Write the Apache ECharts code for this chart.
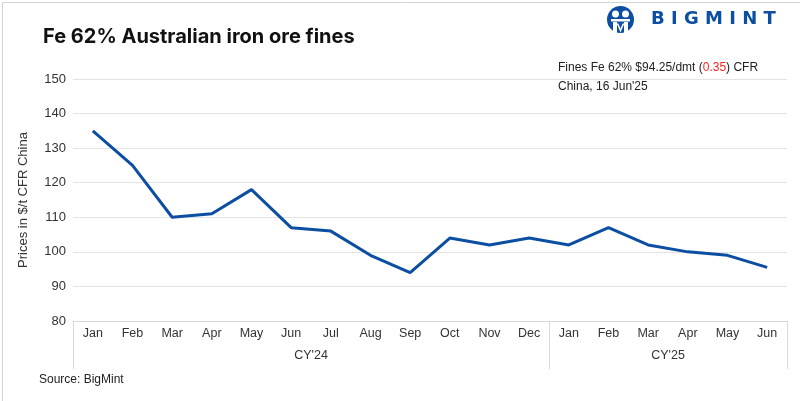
<!DOCTYPE html>
<html>
<head>
<meta charset="utf-8">
<script src="https://cdn.jsdelivr.net/npm/echarts@6/dist/echarts.min.js"></script>
<style>html,body{margin:0;padding:0;background:#fff}#c{width:800px;height:401px}</style>
</head>
<body>
<div id="c"></div>
<script>
const months = ['Jan','Feb','Mar','Apr','May','Jun','Jul','Aug','Sep','Oct','Nov','Dec','Jan','Feb','Mar','Apr','May','Jun'];
const prices = [135, 125, 110, 111, 118, 107, 106, 99, 94, 104, 102, 104, 102, 107, 102, 100, 99, 95.5];
const yearLabels = ["CY'24", "CY'25"];
const yearCenters = [6, 15];
const yearDividers = [0, 12, 18];
const yTicks = [80, 90, 100, 110, 120, 130, 140, 150];

const chart = echarts.init(document.getElementById('c'), null, {renderer: 'canvas'});
const LF = '"Liberation Sans", Arial, sans-serif';
const blue = '#0b4ea2';
chart.setOption({
  animation: false,
  backgroundColor: '#fff',
  grid: {left: 73, right: 13, top: 79, bottom: 80, containLabel: false},
  title: {
    text: 'Fe 62% Australian iron ore fines',
    left: 38, top: 22,
    textStyle: {fontFamily: 'Inter, sans-serif', fontWeight: 'bold', fontSize: 20, color: '#111'}
  },
  xAxis: [
    {
      type: 'category', data: months, boundaryGap: true,
      axisLine: {show: true, lineStyle: {color: '#d9d9d9', width: 1}},
      axisTick: {show: false},
      axisLabel: {color: '#333', fontSize: 12.5, fontFamily: LF, margin: 6, interval: 0}
    },
    {
      type: 'value', min: 0, max: 18, position: 'bottom', gridIndex: 0,
      axisLine: {show: false},
      axisTick: {show: true, customValues: yearDividers, length: 48, lineStyle: {color: '#d9d9d9', width: 1}},
      axisLabel: {
        customValues: yearCenters, margin: 28, color: '#333', fontSize: 12.5, fontFamily: LF,
        formatter: v => yearLabels[yearCenters.indexOf(v)] || ''
      },
      splitLine: {show: false}
    }
  ],
  yAxis: {
    type: 'value', min: yTicks[0], max: yTicks[yTicks.length - 1], interval: 10,
    name: 'Prices in $/t CFR China', nameLocation: 'middle', nameGap: 43, nameRotate: 90,
    nameTextStyle: {color: '#333', fontSize: 13, fontFamily: LF},
    axisLine: {show: false}, axisTick: {show: false},
    axisLabel: {color: '#333', fontSize: 13, fontFamily: LF, margin: 7},
    splitLine: {lineStyle: {color: '#e3e3e3', width: 1}, showMinLine: false}
  },
  series: [{
    type: 'line', data: prices, xAxisIndex: 0, symbol: 'none',
    lineStyle: {color: blue, width: 3}, itemStyle: {color: blue}
  }],
  graphic: [
    {type: 'rect', left: 0, top: 0, shape: {x: 0.5, y: 0.5, width: 799, height: 400}, style: {fill: 'none', stroke: '#d4d4d4', lineWidth: 1}, silent: true, z: 100},
    {type: 'text', left: 558, top: 62, style: {
      text: '{a|Fines Fe 62% $94.25/dmt (}{r|0.35}{a|) CFR}\n{a|China, 16 Jun\'25}',
      rich: {
        a: {fontFamily: LF, fontSize: 12, fill: '#222', lineHeight: 19},
        r: {fontFamily: LF, fontSize: 12, fill: '#ff1f1f', lineHeight: 19}
      }
    }},
    {type: 'text', left: 39, top: 374, style: {text: 'Source: BigMint', font: '12px ' + LF, fill: '#222'}},
    {type: 'group', left: 607, top: 6, children: [
      {type: 'circle', shape: {cx: 13, cy: 14, r: 13.5}, style: {fill: blue}},
      {type: 'circle', shape: {cx: 8, cy: 8.5, r: 3.5}, style: {fill: '#fff'}},
      {type: 'circle', shape: {cx: 18, cy: 8.5, r: 3.5}, style: {fill: '#fff'}},
      {type: 'rect', shape: {x: 3.5, y: 13.5, width: 19, height: 2.5}, style: {fill: '#fff'}},
      {type: 'rect', shape: {x: 5.5, y: 16.5, width: 4, height: 11}, style: {fill: '#fff'}},
      {type: 'rect', shape: {x: 16.5, y: 16.5, width: 4, height: 11}, style: {fill: '#fff'}},
      {type: 'polyline', shape: {points: [[10, 18], [13, 25], [16, 18]]}, style: {stroke: '#fff', lineWidth: 1.6, fill: 'none'}}
    ]},
    {type: 'text', left: 651, top: 10, style: {
      text: 'B I G M I N T', font: 'bold 18px "DejaVu Sans", Arial, sans-serif', fill: blue
    }}
  ]
});
</script>
</body>
</html>
